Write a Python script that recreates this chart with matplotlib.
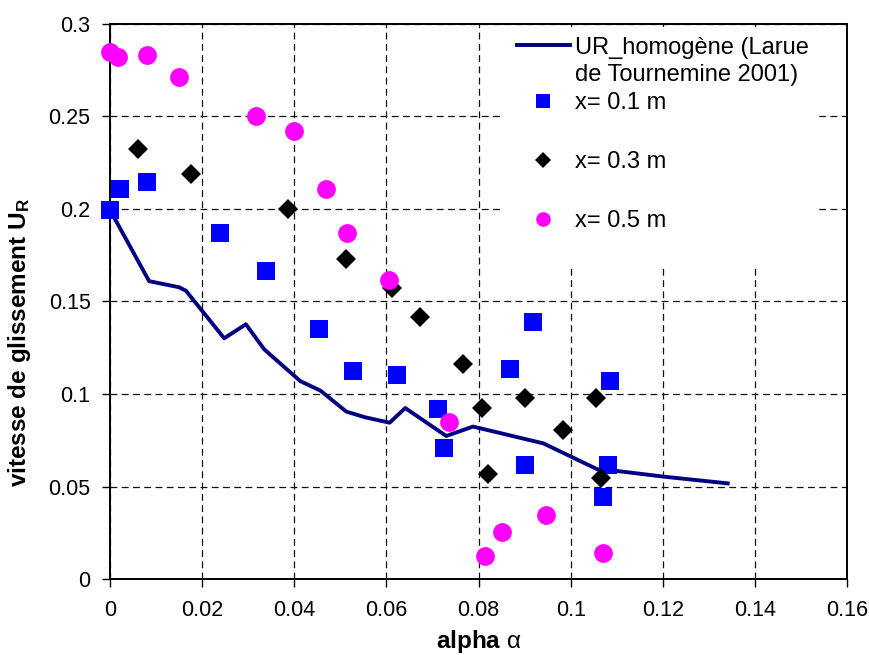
import matplotlib
matplotlib.use("Agg")
import matplotlib.pyplot as plt
from matplotlib.lines import Line2D
from matplotlib.patches import Rectangle
from matplotlib.ticker import FuncFormatter, MultipleLocator

plt.rcParams['font.family'] = ['Liberation Sans', 'DejaVu Sans']
plt.rcParams['mathtext.fontset'] = 'custom'
plt.rcParams['mathtext.rm'] = 'Liberation Sans'
plt.rcParams['mathtext.it'] = 'Liberation Sans:italic'
plt.rcParams['mathtext.bf'] = 'Liberation Sans:bold'

# courbe UR homogène (Larue de Tournemine 2001)
alpha_ref = [0.0, 0.0085, 0.015, 0.0165, 0.0248, 0.0295, 0.0335, 0.0413, 0.0457,
             0.0513, 0.0554, 0.0607, 0.0641, 0.073, 0.0788, 0.0941, 0.1058,
             0.1094, 0.1203, 0.1341]
ur_ref = [0.1995, 0.161, 0.1577, 0.1558, 0.1301, 0.1377, 0.1241, 0.107, 0.1018,
          0.0905, 0.0874, 0.0845, 0.0924, 0.0773, 0.0824, 0.0733, 0.0593,
          0.0586, 0.0553, 0.0517]

# mesures à x = 0.1 m
alpha_01 = [0.0, 0.0022, 0.008, 0.0239, 0.0338, 0.0453, 0.0528, 0.0622, 0.0712,
            0.0725, 0.0869, 0.0918, 0.0901, 0.1086, 0.1082, 0.107]
ur_01 = [0.1995, 0.2106, 0.2146, 0.187, 0.1667, 0.135, 0.1124, 0.1104, 0.0919,
         0.0706, 0.1135, 0.1391, 0.0614, 0.1072, 0.0614, 0.0441]

# mesures à x = 0.3 m
alpha_03 = [0.006, 0.0175, 0.0386, 0.0513, 0.0612, 0.0672, 0.0767, 0.0808,
            0.0821, 0.0902, 0.0984, 0.1055, 0.1067]
ur_03 = [0.2324, 0.219, 0.1998, 0.173, 0.1573, 0.1418, 0.1162, 0.0926, 0.0568,
         0.0977, 0.0805, 0.0977, 0.0544]

# mesures à x = 0.5 m
alpha_05 = [0.0, 0.0018, 0.008, 0.0149, 0.0317, 0.040, 0.047, 0.0515, 0.0605,
            0.0737, 0.0815, 0.0852, 0.0946, 0.107]
ur_05 = [0.285, 0.282, 0.283, 0.2715, 0.250, 0.242, 0.2106, 0.187, 0.1616,
         0.0847, 0.0124, 0.0256, 0.0348, 0.0142]

fs_tick = 15.5
fs_lab = 17.5
fs_leg = 17

fig = plt.figure(figsize=(8.7, 6.55), dpi=100)
ax = fig.add_axes([0.1264, 0.116, 0.8472, 0.8474])

ligne, = ax.plot(alpha_ref, ur_ref, color='#000080', lw=2.8, zorder=2)
carres, = ax.plot(alpha_01, ur_01, 's', color='#0000FF', ms=13.5, mew=0,
                  zorder=3, clip_on=False)
losanges, = ax.plot(alpha_03, ur_03, 'D', color='black', ms=10, mew=0,
                    zorder=4, clip_on=False)
cercles, = ax.plot(alpha_05, ur_05, 'o', color='#FF00FF', ms=13.5, mew=0,
                   zorder=5, clip_on=False)

ax.set_xlim(0, 0.16)
ax.set_ylim(0, 0.3)
ax.xaxis.set_major_locator(MultipleLocator(0.02))
ax.yaxis.set_major_locator(MultipleLocator(0.05))
fmt = FuncFormatter(lambda v, p: '%g' % round(v, 4))
ax.xaxis.set_major_formatter(fmt)
ax.yaxis.set_major_formatter(fmt)

ax.set_axisbelow(True)
ax.grid(True, color='#111111', lw=0.9, dashes=(5.5, 3.5))
ax.tick_params(direction='out', length=6, width=1, labelsize=fs_tick)
ax.tick_params(axis='x', pad=9)
ax.tick_params(axis='y', pad=8)
for s in ax.spines.values():
    s.set_linewidth(1.4)

ax.set_xlabel(r'alpha $\mathrm{\alpha}$', fontsize=fs_lab, fontweight='bold')
ax.set_ylabel(r'vitesse de glissement U$_\mathregular{R}$', fontsize=fs_lab,
              fontweight='bold')
ax.xaxis.set_label_coords(0.5, -0.088)
ax.yaxis.set_label_coords(-0.104, 0.427)

# fond blanc de la légende
ax.add_patch(Rectangle((0.532, 0.564), 0.425, 0.431, transform=ax.transAxes,
                       facecolor='white', edgecolor='none', zorder=1))

vide = Line2D([], [], color='none')
leg1 = ax.legend([ligne, vide], ['UR_homogène (Larue', 'de Tournemine 2001)'],
                 loc='upper left', bbox_to_anchor=(0.552, 0.977),
                 frameon=False, fontsize=fs_leg, borderpad=0, borderaxespad=0,
                 handlelength=2.25, handletextpad=0.2, labelspacing=0.23)
ax.add_artist(leg1)
ax.legend([carres, losanges, cercles], ['x= 0.1 m', 'x= 0.3 m', 'x= 0.5 m'],
          loc='upper left', bbox_to_anchor=(0.552, 0.877),
          frameon=False, fontsize=fs_leg, borderpad=0, borderaxespad=0,
          handlelength=2.25, handletextpad=0.2, labelspacing=1.56,
          markerscale=0.78)

fig.savefig('out.png', dpi=100)
